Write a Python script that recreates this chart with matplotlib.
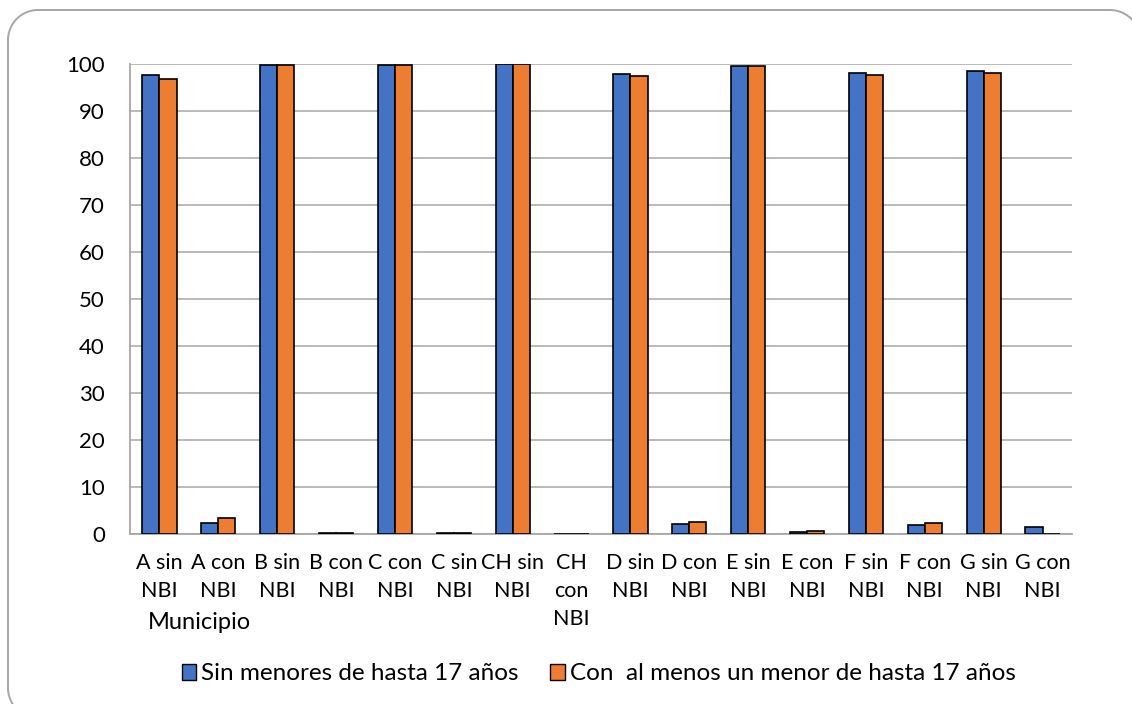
import numpy as np
import matplotlib
matplotlib.use("Agg")
import matplotlib.pyplot as plt
from matplotlib.patches import PathPatch, Patch
from matplotlib.path import Path
from matplotlib.transforms import IdentityTransform

plt.rcParams['font.family'] = ['Lato', 'DejaVu Sans']

# hogares por municipio y condicion NBI (%)
categorias = ["A sin\nNBI", "A con\nNBI", "B sin\nNBI", "B con\nNBI",
              "C con\nNBI", "C sin\nNBI", "CH sin\nNBI", "CH\ncon\nNBI",
              "D sin\nNBI", "D con\nNBI", "E sin\nNBI", "E con\nNBI",
              "F sin\nNBI", "F con\nNBI", "G sin\nNBI", "G con\nNBI"]
sin_menores = [97.6, 2.4, 99.7, 0.3, 99.7, 0.3, 99.9, 0.1,
               97.9, 2.1, 99.6, 0.35, 98.0, 2.0, 98.6, 1.4]
con_menores = [96.8, 3.3, 99.7, 0.3, 99.8, 0.2, 99.9, 0.1,
               97.4, 2.6, 99.5, 0.55, 97.7, 2.4, 98.1, 0.0]
series = ["Sin menores de hasta 17 años", "Con  al menos un menor de hasta 17 años"]
colores = ["#4472C4", "#ED7D31"]

W, H = 1132, 704
fig = plt.figure(figsize=(W / 100, H / 100), dpi=100)


def marco_redondeado(x0, y0, x1, y1, r):
    # contorno con esquinas redondeadas, en pixeles
    verts, codes = [], []
    esquinas = [((x1 - r, y0 + r), 270), ((x1 - r, y1 - r), 0),
                ((x0 + r, y1 - r), 90), ((x0 + r, y0 + r), 180)]
    for (cx, cy), a in esquinas:
        t = np.radians(np.linspace(a, a + 90, 20))
        verts += list(zip(cx + r * np.cos(t), cy + r * np.sin(t)))
    codes = [Path.MOVETO] + [Path.LINETO] * (len(verts) - 1)
    verts.append(verts[0])
    codes.append(Path.CLOSEPOLY)
    return Path(verts, codes)


fig.patches.append(PathPatch(marco_redondeado(8, -14, 1140, 694, 30),
                             transform=IdentityTransform(), facecolor="none",
                             edgecolor="#a6a6a6", linewidth=1.4, zorder=-1))

ax = fig.add_axes([130 / W, (H - 534) / H, 942 / W, 470 / H])
ax.set_facecolor("none")

x = np.arange(len(categorias))
ancho = 0.29
ax.bar(x - ancho / 2, sin_menores, ancho, color=colores[0], edgecolor="black",
       linewidth=1.2, zorder=3)
ax.bar(x + ancho / 2, con_menores, ancho, color=colores[1], edgecolor="black",
       linewidth=1.2, zorder=3)

ax.set_xlim(-0.5, len(categorias) - 0.5)
ax.set_ylim(0, 100)
ax.set_yticks(range(0, 101, 10))
ax.yaxis.grid(True, color="#b4b4b4", linewidth=1.3, zorder=0)
ax.set_axisbelow(True)

ax.set_xticks(x)
ax.set_xticklabels(categorias, fontsize=15.5, linespacing=1.5, va="top")
ax.tick_params(axis="x", length=0, pad=14)
ax.tick_params(axis="y", length=0, pad=18, labelsize=16)

for lado in ["top", "right"]:
    ax.spines[lado].set_visible(False)
for lado in ["left", "bottom"]:
    ax.spines[lado].set_color("#a6a6a6")
    ax.spines[lado].set_linewidth(1.3)

fig.text(148 / W, 1 - 629 / H, "Municipio", fontsize=17, ha="left", va="baseline")

handles = [Patch(facecolor=c, edgecolor="black", linewidth=1.0) for c in colores]
fig.legend(handles, series, loc="center", bbox_to_anchor=(0.529, 1 - 674 / H),
           ncol=2, frameon=False, fontsize=17.5, handlelength=0.6, handleheight=0.6,
           handletextpad=0.2, columnspacing=1.3)

fig.savefig("out.png", dpi=100)
